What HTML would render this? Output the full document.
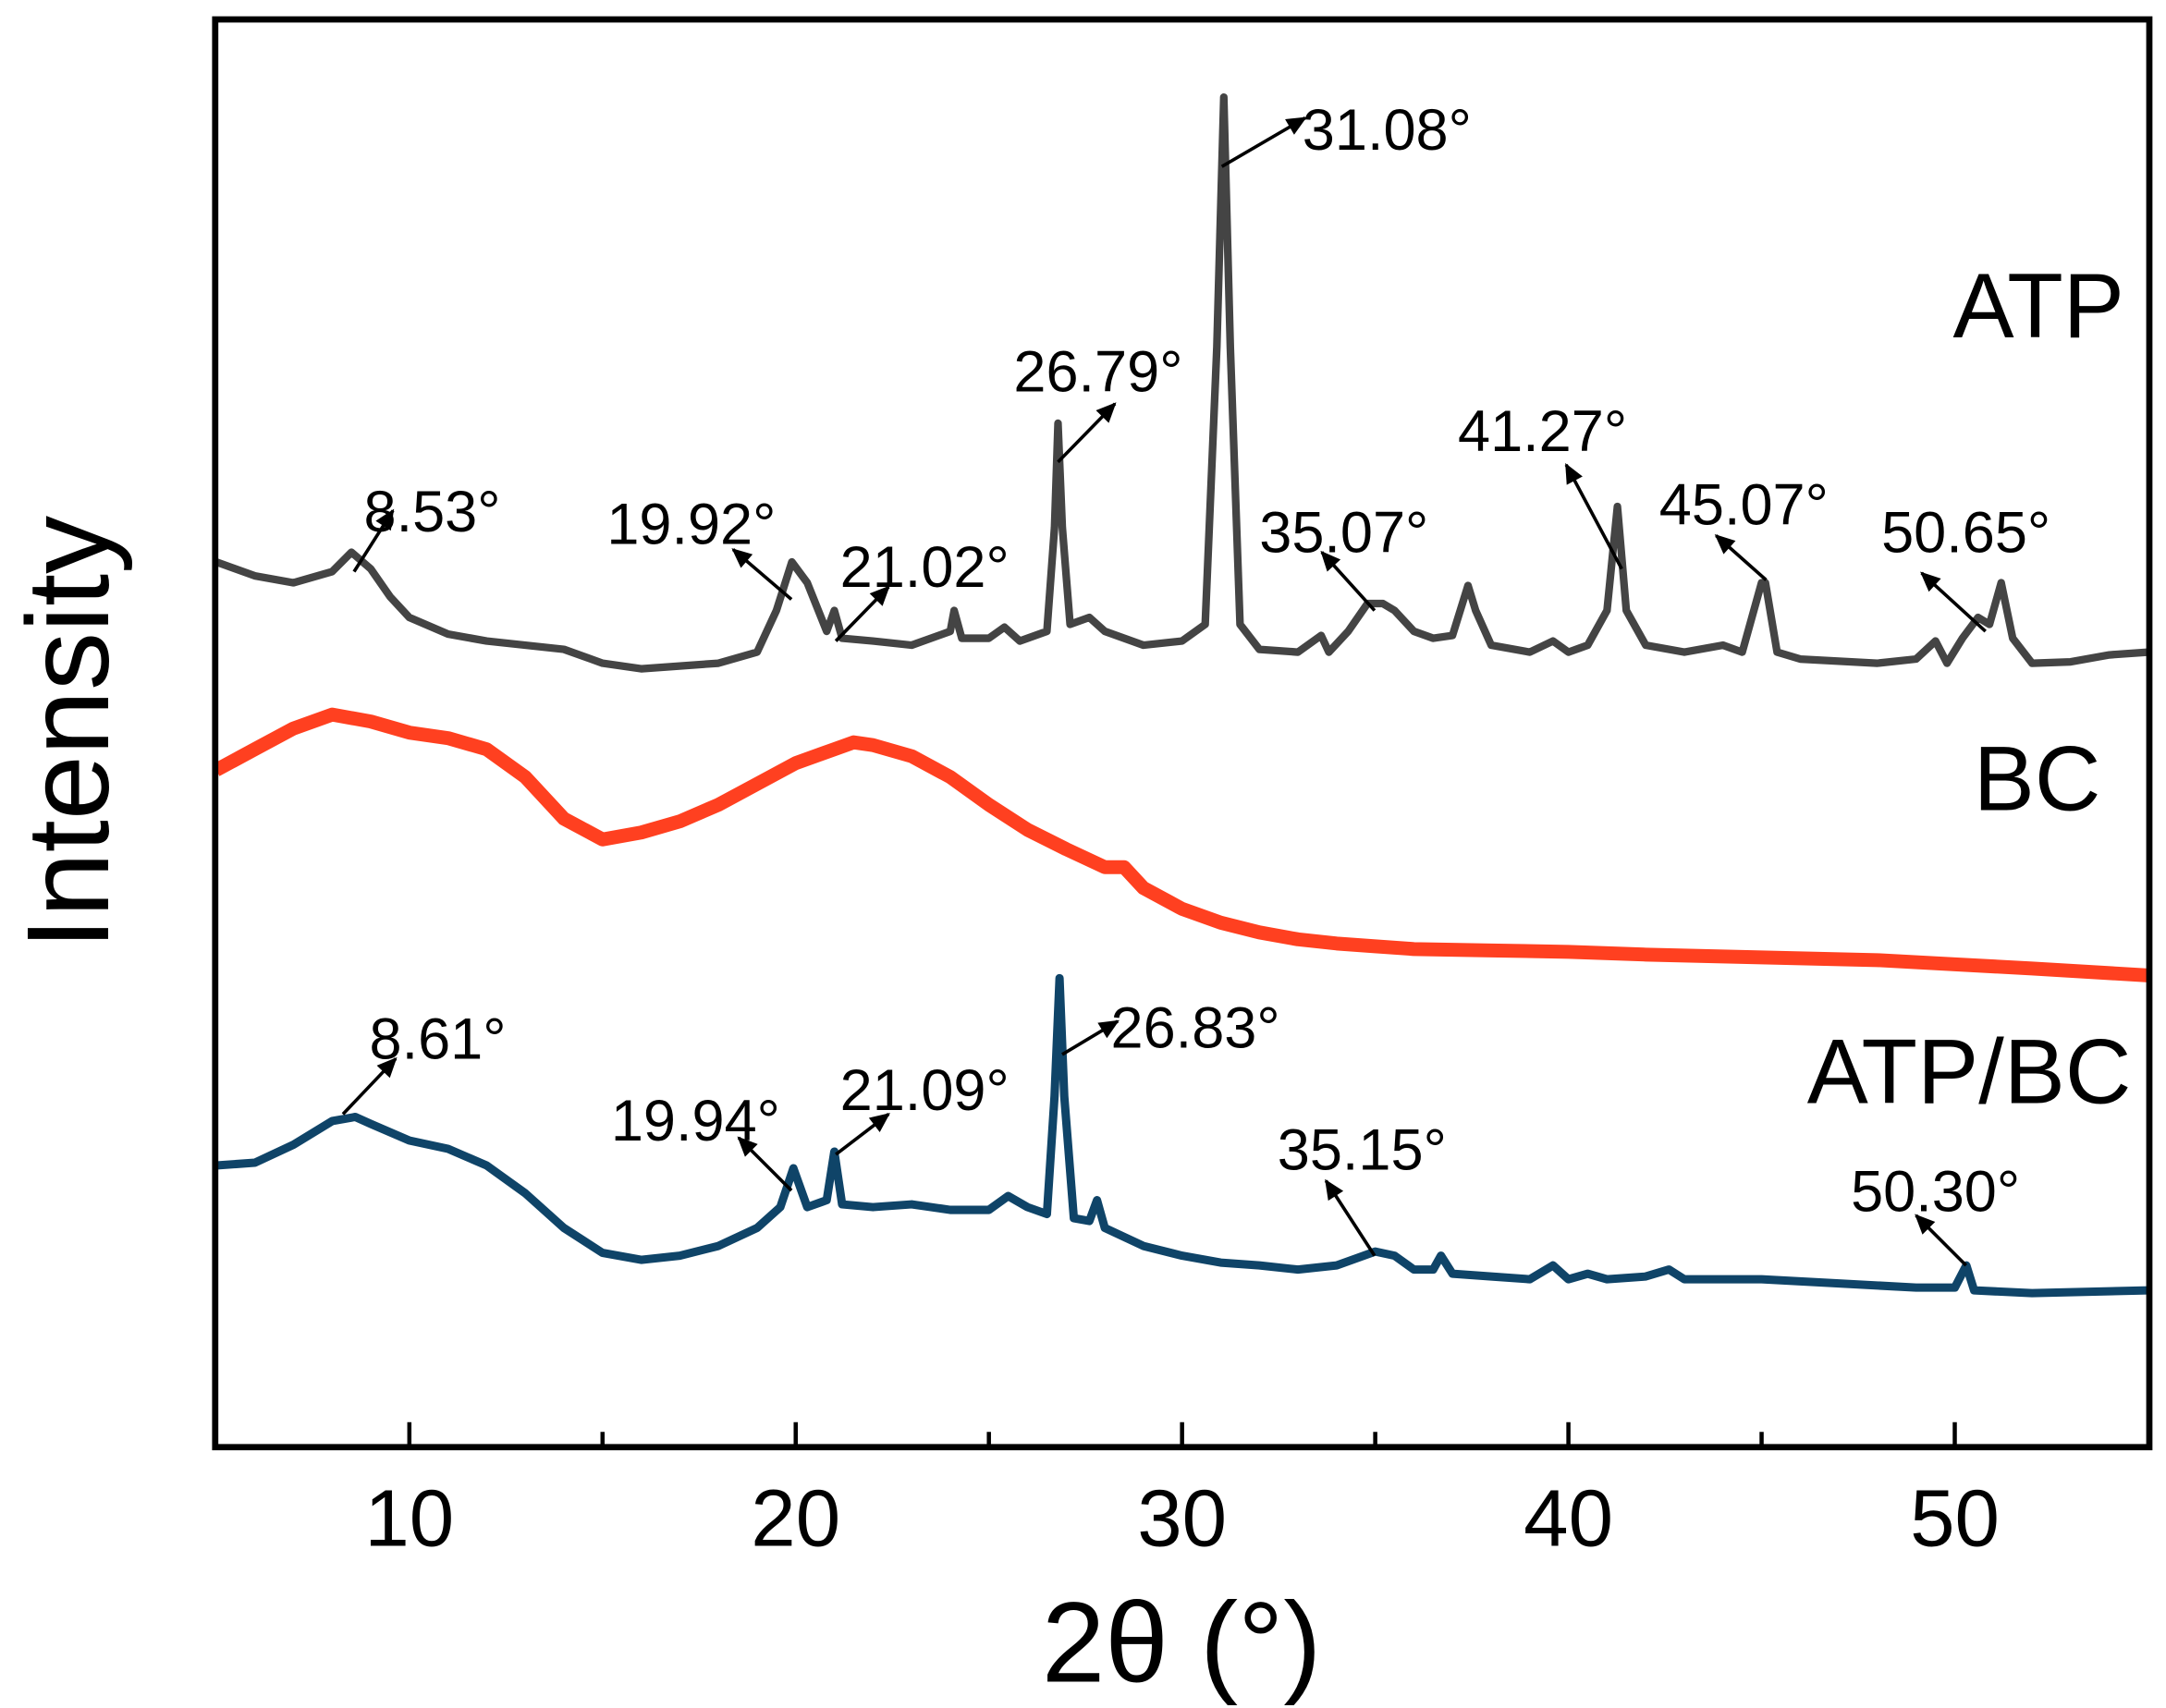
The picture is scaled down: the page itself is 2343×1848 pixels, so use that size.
<!DOCTYPE html>
<html><head><meta charset="utf-8"><style>
html,body{margin:0;padding:0;background:#fff;}
svg{display:block;font-family:"Liberation Sans",Arial,sans-serif;}
</style></head><body>
<svg id="chart" width="2343" height="1848" viewBox="0 0 1560 1231" preserveAspectRatio="none" xmlns="http://www.w3.org/2000/svg">
<defs><marker id="ah" viewBox="0 0 10 10" refX="9" refY="5" markerWidth="8" markerHeight="6" orient="auto"><path d="M0,0.5 L10,5 L0,9.5 z" fill="#000"/></marker></defs>
<g id="series"></g>
<g id="annots"></g>
<rect x="155" y="14" width="1393" height="1029" fill="none" stroke="#000" stroke-width="4.5"/>
<g id="ticks"></g>
<text transform="translate(78,528) rotate(-90)" text-anchor="middle" font-size="84">Intensity</text>
<text x="851" y="1212" text-anchor="middle" font-size="82">2θ (°)</text>
<text x="1530" y="243" text-anchor="end" font-size="66">ATP</text>
<text x="1513" y="584" text-anchor="end" font-size="66">BC</text>
<text x="1535" y="795" text-anchor="end" font-size="66">ATP/BC</text>
</svg>
<script>
const xTicks = [10, 20, 30, 40, 50];
const xMinorTicks = [15, 25, 35, 45];
// intensity (arbitrary units, offset stacked)
const atpX = [5,6,7,8,8.5,9,9.5,10,11,12,14,15,16,18,19,19.5,19.9,20.3,20.8,21.0,21.2,22,23,24,24.1,24.3,25,25.4,25.8,26.5,26.7,26.79,26.9,27.1,27.6,28,29,30,30.6,30.9,31.08,31.25,31.5,32,33,33.6,33.8,34.3,34.8,35.2,35.5,36,36.5,37,37.4,37.6,38,39,39.6,40,40.5,41.0,41.27,41.5,42,43,44,44.5,45.0,45.1,45.4,46,48,49,49.5,49.8,50.2,50.6,50.9,51.2,51.5,52,53,54,55];
const atpY = [638,628,623,631,645,633,613,598,586,581,575,565,561,565,573,603,638,623,588,603,583,581,578,588,603,583,583,591,581,588,663,738,663,593,598,588,578,581,593,793,973,793,593,575,573,585,573,588,608,608,603,588,583,585,621,603,578,573,581,573,578,603,678,603,578,573,578,573,623,623,573,568,565,568,581,565,583,598,593,623,583,565,566,571,573];
const bcX = [5,6,7,8,9,10,11,12,13,14,15,16,17,18,19,20,21,21.5,22,23,24,25,26,27,28,28.5,29,30,31,32,33,34,35,36,38,40,42,45,48,50,52,55];
const bcY = [488,503,518,528,523,515,511,503,483,453,438,443,451,463,478,493,503,508,506,498,483,463,445,431,418,418,403,388,378,371,366,363,361,359,358,357,355,353,351,348,345,340];
const abX = [5,6,7,8,8.6,9,10,11,12,13,14,15,16,17,18,19,19.6,19.94,20.3,20.8,21.0,21.2,22,23,24,25,25.5,26,26.5,26.7,26.83,26.95,27.2,27.6,27.8,28,29,30,31,32,33,34,35,35.5,36,36.5,36.7,37,38,39,39.6,40,40.5,41,42,42.6,43,45,47,49,50,50.3,50.5,52,55];
const abY = [203,205,218,235,238,233,221,215,203,183,158,140,135,138,145,158,173,201,173,178,213,175,173,175,171,171,181,173,168,253,338,253,165,163,178,158,145,138,133,131,128,131,141,138,128,128,138,125,123,121,131,121,125,121,123,128,121,121,118,115,115,131,113,111,113];
const annX = [8.53,19.92,21.02,26.79,31.08,35.07,41.27,45.07,50.65,8.61,19.94,21.09,26.83,35.15,50.30];

const NS="http://www.w3.org/2000/svg";
const L=155.7, R=1547, T=14, B=1043;
function xs(v){return L+(v-5)*(R-L)/50;}
function ys(v){return B-v;}
const gS=document.getElementById('series'), gT=document.getElementById('ticks'), gA=document.getElementById('annots');

function drawSeries(X,Y,color,name,w){
  const p=document.createElementNS(NS,'polyline');
  p.setAttribute('points',X.map((x,i)=>xs(x).toFixed(1)+','+ys(Y[i]).toFixed(1)).join(' '));
  p.setAttribute('fill','none');p.setAttribute('stroke',color);p.setAttribute('stroke-width',w);
  p.setAttribute('stroke-linejoin','round');
  
  
  gS.appendChild(p);
}
drawSeries(atpX,atpY,'#444444','series-atp',5.5);
drawSeries(bcX,bcY,'#ff4020',"series-bc",10);
drawSeries(abX,abY,'#0f4468','series-atp-bc',6);

xTicks.forEach(t=>{
  const l=document.createElementNS(NS,'line');
  l.setAttribute('x1',xs(t));l.setAttribute('x2',xs(t));l.setAttribute('y1',B);l.setAttribute('y2',B-18);
  l.setAttribute('stroke','#000');l.setAttribute('stroke-width',3);
  
  
  gT.appendChild(l);
  const tx=document.createElementNS(NS,'text');
  tx.setAttribute('x',xs(t));tx.setAttribute('y',1114);tx.setAttribute('text-anchor','middle');tx.setAttribute('font-size','58');
  tx.textContent=t;
  
  
  gT.appendChild(tx);
});
xMinorTicks.forEach(t=>{
  const l=document.createElementNS(NS,'line');
  l.setAttribute('x1',xs(t));l.setAttribute('x2',xs(t));l.setAttribute('y1',B);l.setAttribute('y2',B-11);
  l.setAttribute('stroke','#000');l.setAttribute('stroke-width',3);
  
  
  gT.appendChild(l);
});

const ann=[
 ['8.53°',255,412,283,368,262,383],
 ['19.92°',570,432,528,396,437,392],
 ['21.02°',602,462,640,423,605,423],
 ['26.79°',762,333,803,291,730,282],
 ['31.08°',880,120,940,85,938,108],
 ['35.07°',990,440,952,398,907,398],
 ['41.27°',1168,410,1128,335,1050,325],
 ['45.07°',1272,418,1236,386,1195,378],
 ['50.65°',1430,455,1384,413,1355,398],
 ['8.61°',247,803,285,763,266,763],
 ['19.94°',570,858,532,820,440,822],
 ['21.09°',602,832,640,803,605,800],
 ['26.83°',765,760,805,736,800,755],
 ['35.15°',990,905,955,851,920,843],
 ['50.30°',1416,912,1380,876,1333,873]
];
ann.forEach((a,i)=>{
  const l=document.createElementNS(NS,'line');
  l.setAttribute('x1',a[1]);l.setAttribute('y1',a[2]);l.setAttribute('x2',a[3]);l.setAttribute('y2',a[4]);
  l.setAttribute('stroke','#000');l.setAttribute('stroke-width',2.4);l.setAttribute('marker-end','url(#ah)');
  
  
  gA.appendChild(l);
  const t=document.createElementNS(NS,'text');
  t.setAttribute('x',a[5]);t.setAttribute('y',a[6]);t.setAttribute('font-size','42');
  t.textContent=a[0];
  
  
  gA.appendChild(t);
});
</script>
</body></html>
